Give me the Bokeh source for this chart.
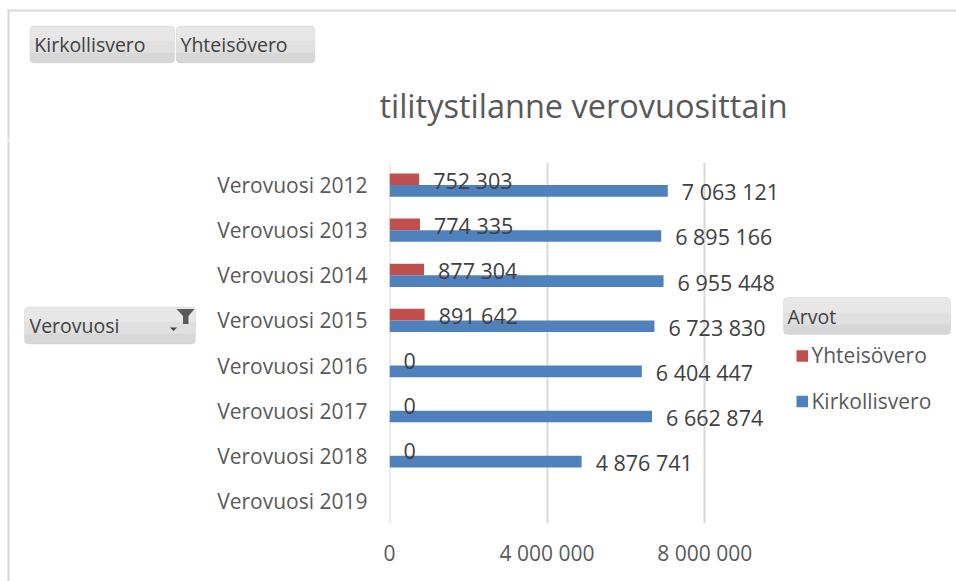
from bokeh.plotting import figure
from bokeh.layouts import column, row
from bokeh.models import (ColumnDataSource, FactorRange, Range1d, FixedTicker,
                          Label, BoxAnnotation, PolyAnnotation)
from bokeh.transform import dodge
from bokeh.core.properties import value
from bokeh.embed import file_html
from bokeh.resources import INLINE

# ---------------- data ----------------
categories = ["Verovuosi 2012", "Verovuosi 2013", "Verovuosi 2014", "Verovuosi 2015",
              "Verovuosi 2016", "Verovuosi 2017", "Verovuosi 2018", "Verovuosi 2019"]
yhteisovero = [752303, 774335, 877304, 891642, 0, 0, 0, None]
kirkollisvero = [7063121, 6895166, 6955448, 6723830, 6404447, 6662874, 4876741, None]
series_names = ["Yhteisövero", "Kirkollisvero"]
x_ticks = [0, 4000000, 8000000]
title_text = "tilitystilanne verovuosittain"
column_fields = ["Kirkollisvero", "Yhteisövero"]
row_field = "Verovuosi"
values_field = "Arvot"

# ---------------- style ----------------
RED = "#C0504D"
BLUE = "#4F81BD"
TEXT = "#595959"
DARK = "#404040"
GRID = "#D9D9D9"
FONT = "Open Sans"

PAGE_W, PAGE_H = 956, 581
TOP_H = 140          # header strip (buttons + title)
LEFT_W = 200         # strip with the row-field button
MAIN_W, MAIN_H = PAGE_W - LEFT_W, PAGE_H - TOP_H
ML, MR, MT, MB = 189, 0, 22, 58
FW, FH = MAIN_W - ML - MR, MAIN_H - MT - MB
FRAME_L = LEFT_W + ML            # page x of value 0
FRAME_B = TOP_H + MAIN_H - MB    # page y of frame bottom
PX_PER_UNIT = 39.4 / 1e6
X_END = FW / PX_PER_UNIT
N = len(categories)


def dx(px):
    """page pixel x -> main-figure data x"""
    return (px - FRAME_L) / PX_PER_UNIT


def dy(py):
    """page pixel y -> main-figure synthetic categorical y"""
    return (FRAME_B - py) / FH * N


def fmt(v):
    return f"{v:,}".replace(",", " ")


def series_source(vals):
    cats = [c for c, v in zip(categories, vals) if v is not None]
    vs = [v for v in vals if v is not None]
    return ColumnDataSource(dict(cat=cats, val=vs, lbl=[fmt(v) for v in vs]))


def blank_fig(x0, y0, w, h):
    """decoration strip whose data units are page pixels"""
    f = figure(width=w, height=h, output_backend="svg", toolbar_location=None,
               x_range=Range1d(x0, x0 + w), y_range=Range1d(y0 + h, y0),
               x_axis_type=None, y_axis_type=None, min_border=0)
    f.frame_align = False
    f.outline_line_color = None
    f.grid.visible = False
    f.background_fill_color = "white"
    f.border_fill_color = "white"
    return f


def box(f, x0, y0, x1, y1, color, radius=0):
    f.add_layout(BoxAnnotation(left=x0, right=x1, top=y0, bottom=y1,
                               fill_color=color, fill_alpha=1, line_color=None,
                               border_radius=radius))


def button(f, X, Y, x0, y0, x1, y1, r=4):
    h = y1 - y0
    L, R = X(x0), X(x1)
    bands = [(y0, y0 + h * 0.40 + 0.5, "#E7E7E7", (r, r, 0, 0)),
             (y0 + h * 0.40, y0 + h * 0.72 + 0.5, "#E0E0E0", 0),
             (y0 + h * 0.72, y1, "#D7D7D7", (0, 0, r, r))]
    for a, b, c, rad in bands:
        f.add_layout(BoxAnnotation(left=L, right=R, top=Y(a), bottom=Y(b),
                                   fill_color=c, fill_alpha=1, line_color=None,
                                   border_radius=rad))
    f.add_layout(BoxAnnotation(left=L, right=R, top=Y(y0), bottom=Y(y1),
                               fill_color=None, fill_alpha=0, line_color="#C4C4C4",
                               line_width=1, border_radius=r))


def btn_text(f, X, Y, x, y, txt, size="19.5px", color=DARK):
    f.add_layout(Label(x=X(x), y=Y(y), text=txt, text_align="left",
                       text_baseline="middle", text_font=FONT,
                       text_font_size=size, text_color=color))


ident = lambda v: v

# ---------------- header strip ----------------
top = blank_fig(0, 0, PAGE_W, TOP_H)
box(top, 7, 9, PAGE_W, 11, GRID)          # chart area border (top)
box(top, 7, 9, 9, TOP_H, GRID)            # chart area border (left)
button(top, ident, ident, 29.5, 25.5, 174, 62.5)
btn_text(top, ident, ident, 33.8, 43.6, column_fields[0])
button(top, ident, ident, 175.7, 25.5, 314.3, 62.5)
btn_text(top, ident, ident, 180, 43.6, column_fields[1])
top.add_layout(Label(x=583, y=105, text=title_text, text_align="center",
                     text_baseline="middle", text_font=FONT,
                     text_font_size="32.5px", text_color=TEXT))

# ---------------- left strip (row field button) ----------------
left = blank_fig(0, TOP_H, LEFT_W, MAIN_H)
box(left, 7, TOP_H, 9, PAGE_H, GRID)
button(left, ident, ident, 24, 306.5, 195, 343.5)
btn_text(left, ident, ident, 29, 325.2, row_field)
left.add_layout(PolyAnnotation(xs=[176, 194, 188, 188, 182.5, 182.5],
                               ys=[308.5, 308.5, 315.5, 323.5, 323.5, 315.5],
                               fill_color="#5A5A5A", fill_alpha=1, line_color=None))
left.add_layout(PolyAnnotation(xs=[169.5, 176.5, 173], ys=[327, 327, 330.5],
                               fill_color=DARK, fill_alpha=1, line_color=None))

# ---------------- main chart ----------------
src_y = series_source(yhteisovero)
src_k = series_source(kirkollisvero)

p = figure(width=MAIN_W, height=MAIN_H, output_backend="svg", toolbar_location=None,
           y_range=FactorRange(*reversed(categories)), x_range=Range1d(-1, X_END),
           min_border_left=ML, min_border_right=MR, min_border_top=MT,
           min_border_bottom=MB)
p.frame_align = False
p.outline_line_color = None
p.background_fill_color = "white"
p.border_fill_color = "white"

BAR_H = 0.257
DODGE = 0.1285

p.hbar(y=dodge("cat", DODGE, range=p.y_range), right="val", left=0, height=BAR_H,
       fill_color=RED, line_color=None, source=src_y)
p.hbar(y=dodge("cat", -DODGE, range=p.y_range), right="val", left=0, height=BAR_H,
       fill_color=BLUE, line_color=None, source=src_k)

for src, off in ((src_y, DODGE), (src_k, -DODGE)):
    p.text(x="val", y=dodge("cat", off, range=p.y_range), text="lbl", source=src,
           x_offset=14, y_offset=1, text_baseline="middle", text_align="left",
           text_font=value(FONT), text_font_size=value("21.5px"), text_color=DARK)

# axes & grid
p.xaxis.ticker = FixedTicker(ticks=x_ticks)
p.xaxis.major_label_overrides = {t: fmt(t) for t in x_ticks}
p.xgrid.ticker = FixedTicker(ticks=x_ticks)
p.xgrid.grid_line_color = GRID
p.xgrid.grid_line_width = 2
p.ygrid.grid_line_color = None
for ax in (p.xaxis, p.yaxis):
    ax.axis_line_color = None
    ax.major_tick_line_color = None
    ax.minor_tick_line_color = None
    ax.major_tick_out = 0
    ax.major_tick_in = 0
    ax.major_label_text_font = FONT
    ax.major_label_text_font_size = "21px"
    ax.major_label_text_color = TEXT
p.xaxis.major_label_standoff = 15
p.yaxis.major_label_standoff = 22

# legend: "Arvot" values button and series items
button(p, dx, dy, 783, 297, 950, 334)
btn_text(p, dx, dy, 787, 316, values_field)
legend_y = [355.5, 401]
for name, col, cy in zip(series_names, [RED, BLUE], legend_y):
    p.add_layout(BoxAnnotation(left=dx(796), right=dx(807.5), top=dy(cy - 5.75),
                               bottom=dy(cy + 5.75), fill_color=col, fill_alpha=1,
                               line_color=None))
    p.add_layout(Label(x=dx(811), y=dy(cy - 1), text=name, text_align="left",
                       text_baseline="middle", text_font=FONT, text_font_size="21px",
                       text_color=TEXT))

layout = column(top, row(left, p, spacing=0), spacing=0)

open("out.html", "w").write(file_html(layout, INLINE))
